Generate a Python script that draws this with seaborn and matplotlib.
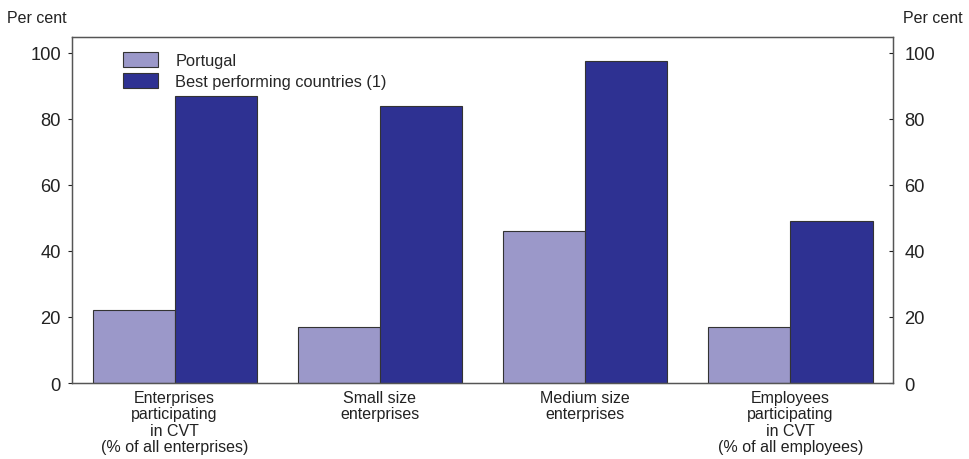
import pandas as pd
import matplotlib.pyplot as plt
import seaborn as sns

categories = ["Enterprises\nparticipating\nin CVT\n(% of all enterprises)",
              "Small size\nenterprises",
              "Medium size\nenterprises",
              "Employees\nparticipating\nin CVT\n(% of all employees)"]
portugal = [22, 17, 46, 17]
best = [87, 84, 97.5, 49]
series = ["Portugal", "Best performing countries (1)"]
colors = ["#9b98c9", "#2e3192"]

df = pd.DataFrame({
    "cat": categories * 2,
    "val": portugal + best,
    "series": [series[0]] * 4 + [series[1]] * 4,
})

sns.set_style("white")
plt.rcParams['font.family'] = ['Liberation Sans', 'DejaVu Sans']

fig = plt.figure(figsize=(9.69, 4.6), dpi=100)
ax = fig.add_axes([0.0743, 0.1652, 0.8473, 0.7522])
sns.barplot(data=df, x="cat", y="val", hue="series", palette=colors,
            saturation=1, width=0.8, edgecolor="#333333", linewidth=0.8, ax=ax)

ax.set_xlim(-0.5, 3.5)
ax.set_ylim(0, 104.8)
ax.set_yticks(range(0, 101, 20))
ax.set_xlabel("")
ax.set_ylabel("")
ax.tick_params(axis="x", length=0, labelsize=11.5, pad=5, colors="#222222")
for lbl in ax.get_xticklabels():
    lbl.set_linespacing(1.12)
ax.tick_params(axis="y", direction="out", length=3, labelsize=13.2, colors="#222222", pad=5)
for s in ax.spines.values():
    s.set_color("#555555")
    s.set_linewidth(1)

ax2 = ax.twinx()
ax2.set_ylim(ax.get_ylim())
ax2.set_yticks(range(0, 101, 20))
ax2.tick_params(axis="y", direction="in", length=3, labelsize=13.2, colors="#222222", pad=8)
for s in ax2.spines.values():
    s.set_color("#555555")

handles, labels = ax.get_legend_handles_labels()
ax.legend(handles, labels, loc="upper left", bbox_to_anchor=(0.048, 0.99),
          frameon=False, fontsize=11.8, handlelength=2.15, handleheight=1.05,
          handletextpad=1.05, labelspacing=0.3, borderaxespad=0.3)

fig.text(0.007, 0.96, "Per cent", fontsize=11.5, ha="left", va="center", color="#222222")
fig.text(0.993, 0.96, "Per cent", fontsize=11.5, ha="right", va="center", color="#222222")

plt.savefig("out.png", dpi=100)
